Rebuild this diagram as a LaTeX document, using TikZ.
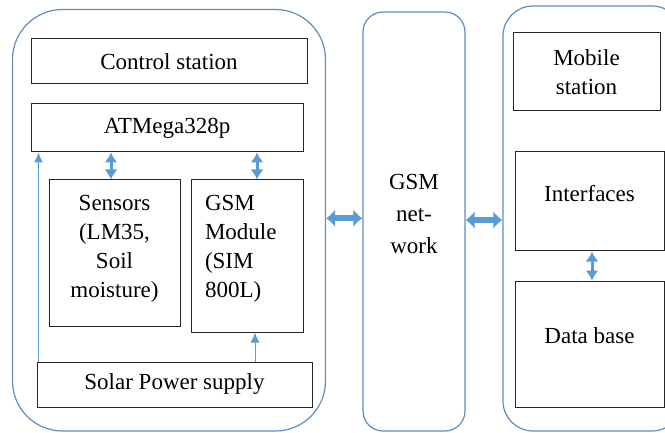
\documentclass[tikz,border=0pt]{standalone}
\usepackage{fontspec}
\setmainfont{LiberationSerif}[Extension=.ttf, UprightFont=*-Regular, BoldFont=*-Bold]
\usepackage{xcolor}
\usetikzlibrary{arrows.meta}
\definecolor{frameBlue}{RGB}{96,140,190}
\definecolor{linkBlue}{RGB}{91,155,213}
\tikzset{%
  % ------------------------------
  % frames round the three stations
  % ------------------------------
  unit/.style={rectangle, draw=frameBlue, line width=1.2pt, align=center, font=\fontsize{23}{32}\selectfont},
  %
  block/.style={rectangle, draw=black!85, line width=1pt, align=center, font=\fontsize{23}{29}\selectfont},
  % ----------
  % connectors
  % ----------
  link/.style={{Latex[length=9pt,width=18pt]}-{Latex[length=9pt,width=18pt]}, draw=linkBlue, line width=6pt},% between stations
  bus/.style={{Latex[length=10pt,width=13pt]}-{Latex[length=10pt,width=13pt]}, draw=linkBlue, line width=3pt},
  feed/.style={-{Latex[length=10pt,width=9pt]}, draw=linkBlue, line width=1pt}}% power lines

\begin{document}
\begin{tikzpicture}[x=1pt,y=1pt]
    \useasboundingbox (0,0) rectangle (665,432);
    \clip (0,0) rectangle (665,432);

    \node[unit, rounded corners=50pt, minimum width=313pt, minimum height=421.5pt] (station) at (169,211.75) {};
    \node[unit, rounded corners=20pt, minimum width=102pt, minimum height=419pt, text depth=15pt] (network) at (414,210.5) {GSM\\net-\\work};
    \node[unit, rounded corners=30pt, minimum width=179pt, minimum height=425pt] (mobile) at (592.5,213.5) {};

    \node[block, minimum width=276pt, minimum height=45pt] (control) at (169,370.5) {Control station};
    \node[block, minimum width=272pt, minimum height=48pt] (atmega) at (167,304) {ATMega328p};
    \node[block, minimum width=131pt, minimum height=146pt, text depth=13pt] (sensors) at (114.5,179) {Sensors\\(LM35,\\Soil\\moisture)};
    \node[block, minimum width=112pt, minimum height=152pt, align=left, text width=84pt, text depth=106pt] (gsm) at (247,176) {GSM\\Module\\(SIM\\800L)};
    \node[block, minimum width=275pt, minimum height=45pt] (solar) at (174.5,47.5) {Solar Power supply};

    \node[block, minimum width=147pt, minimum height=78pt] (mobst) at (586.5,360) {Mobile\\station};
    \node[block, minimum width=149pt, minimum height=99pt, text depth=16pt] (iface) at (589.5,230.5) {Interfaces};
    \node[block, minimum width=149pt, minimum height=126pt, text depth=17pt] (dbase) at (589.5,88) {Data base};

    \draw[link] ([yshift=2pt]station.east) -- ([yshift=2pt]station.east -| network.west);
    \draw[link] ([yshift=1.5pt]network.east) -- ([yshift=1.5pt]network.east -| mobile.west);

    \draw[bus] ([xshift=-3.5pt]sensors.north) -- ([xshift=-3.5pt]sensors.north |- atmega.south);
    \draw[bus] ([xshift=10pt]gsm.north) -- ([xshift=10pt]gsm.north |- atmega.south);
    \draw[bus] ([xshift=2.5pt]dbase.north) -- ([xshift=2.5pt]dbase.north |- iface.south);

    \draw[feed] ([xshift=2pt]solar.north west) -- ([xshift=8pt]atmega.south west);
    \draw[feed] ([xshift=8pt]gsm.south |- solar.north) -- ([xshift=8pt]gsm.south);
\end{tikzpicture}
\end{document}
